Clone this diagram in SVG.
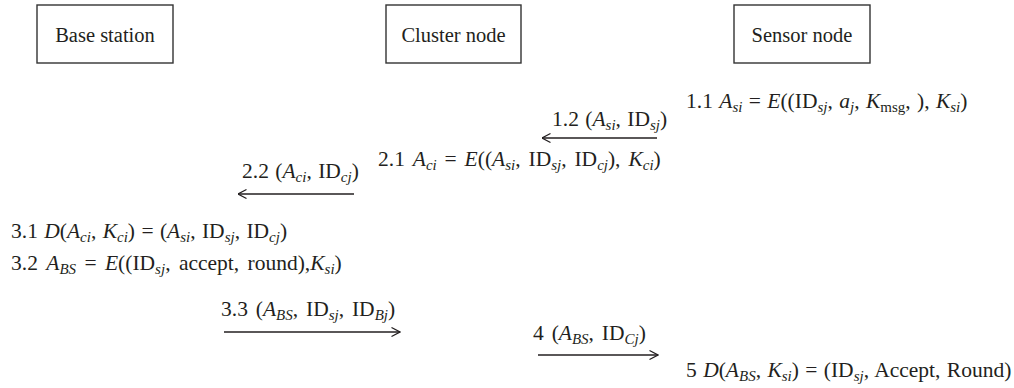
<svg xmlns="http://www.w3.org/2000/svg" width="1014" height="388" viewBox="0 0 1014 388">
<style>
text{font-family:"Liberation Serif","Times New Roman",serif;font-size:21.5px;fill:#231f20;word-spacing:1px}
.n{font-size:20.5px;word-spacing:0}
.w2{word-spacing:2.5px}
.w3{word-spacing:3px}
.i{font-style:italic}
.s{font-size:15px;font-style:italic}
.u{font-size:15px}
.box{fill:#fff;stroke:#333;stroke-width:1.4}
.ar{stroke:#231f20;stroke-width:1.3;fill:none}
</style>
<defs>
<marker id="ah" viewBox="0 0 10 10" refX="9.5" refY="5" markerWidth="10" markerHeight="10" markerUnits="userSpaceOnUse" orient="auto">
<path d="M1,0.5 L9.5,5 L1,9.5" fill="none" stroke="#231f20" stroke-width="1.2"/>
</marker>
</defs>
<g id="base-station"><rect class="box" x="37" y="5" width="136" height="58"/><text class="n" x="105" y="42" text-anchor="middle">Base station</text></g>
<g id="cluster-node"><rect class="box" x="386" y="5" width="135" height="58"/><text class="n" x="453.5" y="42" text-anchor="middle">Cluster node</text></g>
<g id="sensor-node"><rect class="box" x="734" y="5" width="136" height="58"/><text class="n" x="802" y="42" text-anchor="middle">Sensor node</text></g>
<g id="connectors">
<line class="ar" x1="657" y1="138" x2="542" y2="138" marker-end="url(#ah)"/>
<line class="ar" x1="354" y1="194" x2="238" y2="194" marker-end="url(#ah)"/>
<line class="ar" x1="224" y1="332" x2="400" y2="332" marker-end="url(#ah)"/>
<line class="ar" x1="538" y1="355" x2="658" y2="355" marker-end="url(#ah)"/>
</g>
<g id="labels">
<text x="686" y="108">1.1 <tspan class="i">A</tspan><tspan class="s" dy="4">si</tspan><tspan dy="-4"> = </tspan><tspan class="i">E</tspan>((ID<tspan class="s" dy="4">sj</tspan><tspan dy="-4">, </tspan><tspan class="i">a</tspan><tspan class="s" dy="4">j</tspan><tspan dy="-4">, </tspan><tspan class="i">K</tspan><tspan class="u" dy="4">msg</tspan><tspan dy="-4">, ), </tspan><tspan class="i">K</tspan><tspan class="s" dy="4">si</tspan><tspan dy="-4">)</tspan></text>
<text x="552" y="126">1.2 (<tspan class="i">A</tspan><tspan class="s" dy="4">si</tspan><tspan dy="-4">, ID</tspan><tspan class="s" dy="4">sj</tspan><tspan dy="-4">)</tspan></text>
<text class="w2" x="378" y="166">2.1 <tspan class="i">A</tspan><tspan class="s" dy="4">ci</tspan><tspan dy="-4"> = </tspan><tspan class="i">E</tspan>((<tspan class="i">A</tspan><tspan class="s" dy="4">si</tspan><tspan dy="-4">, ID</tspan><tspan class="s" dy="4">sj</tspan><tspan dy="-4">, ID</tspan><tspan class="s" dy="4">cj</tspan><tspan dy="-4">), </tspan><tspan class="i">K</tspan><tspan class="s" dy="4">ci</tspan><tspan dy="-4">)</tspan></text>
<text x="242" y="178">2.2 (<tspan class="i">A</tspan><tspan class="s" dy="4">ci</tspan><tspan dy="-4">, ID</tspan><tspan class="s" dy="4">cj</tspan><tspan dy="-4">)</tspan></text>
<text x="11" y="238">3.1 <tspan class="i">D</tspan>(<tspan class="i">A</tspan><tspan class="s" dy="4">ci</tspan><tspan dy="-4">, </tspan><tspan class="i">K</tspan><tspan class="s" dy="4">ci</tspan><tspan dy="-4">) = (</tspan><tspan class="i">A</tspan><tspan class="s" dy="4">si</tspan><tspan dy="-4">, ID</tspan><tspan class="s" dy="4">sj</tspan><tspan dy="-4">, ID</tspan><tspan class="s" dy="4">cj</tspan><tspan dy="-4">)</tspan></text>
<text class="w3" x="11" y="270">3.2 <tspan class="i">A</tspan><tspan class="s" dy="4">BS</tspan><tspan dy="-4"> = </tspan><tspan class="i">E</tspan>((ID<tspan class="s" dy="4">sj</tspan><tspan dy="-4">, accept, round),</tspan><tspan class="i">K</tspan><tspan class="s" dy="4">si</tspan><tspan dy="-4">)</tspan></text>
<text class="w2" x="221" y="316">3.3 (<tspan class="i">A</tspan><tspan class="s" dy="4">BS</tspan><tspan dy="-4">, ID</tspan><tspan class="s" dy="4">sj</tspan><tspan dy="-4">, ID</tspan><tspan class="s" dy="4">Bj</tspan><tspan dy="-4">)</tspan></text>
<text class="w2" x="533" y="340">4 (<tspan class="i">A</tspan><tspan class="s" dy="4">BS</tspan><tspan dy="-4">, ID</tspan><tspan class="s" dy="4">Cj</tspan><tspan dy="-4">)</tspan></text>
<text x="686" y="377">5 <tspan class="i">D</tspan>(<tspan class="i">A</tspan><tspan class="s" dy="4">BS</tspan><tspan dy="-4">, </tspan><tspan class="i">K</tspan><tspan class="s" dy="4">si</tspan><tspan dy="-4">) = (ID</tspan><tspan class="s" dy="4">sj</tspan><tspan dy="-4">, Accept, Round)</tspan></text>
</g>
</svg>
